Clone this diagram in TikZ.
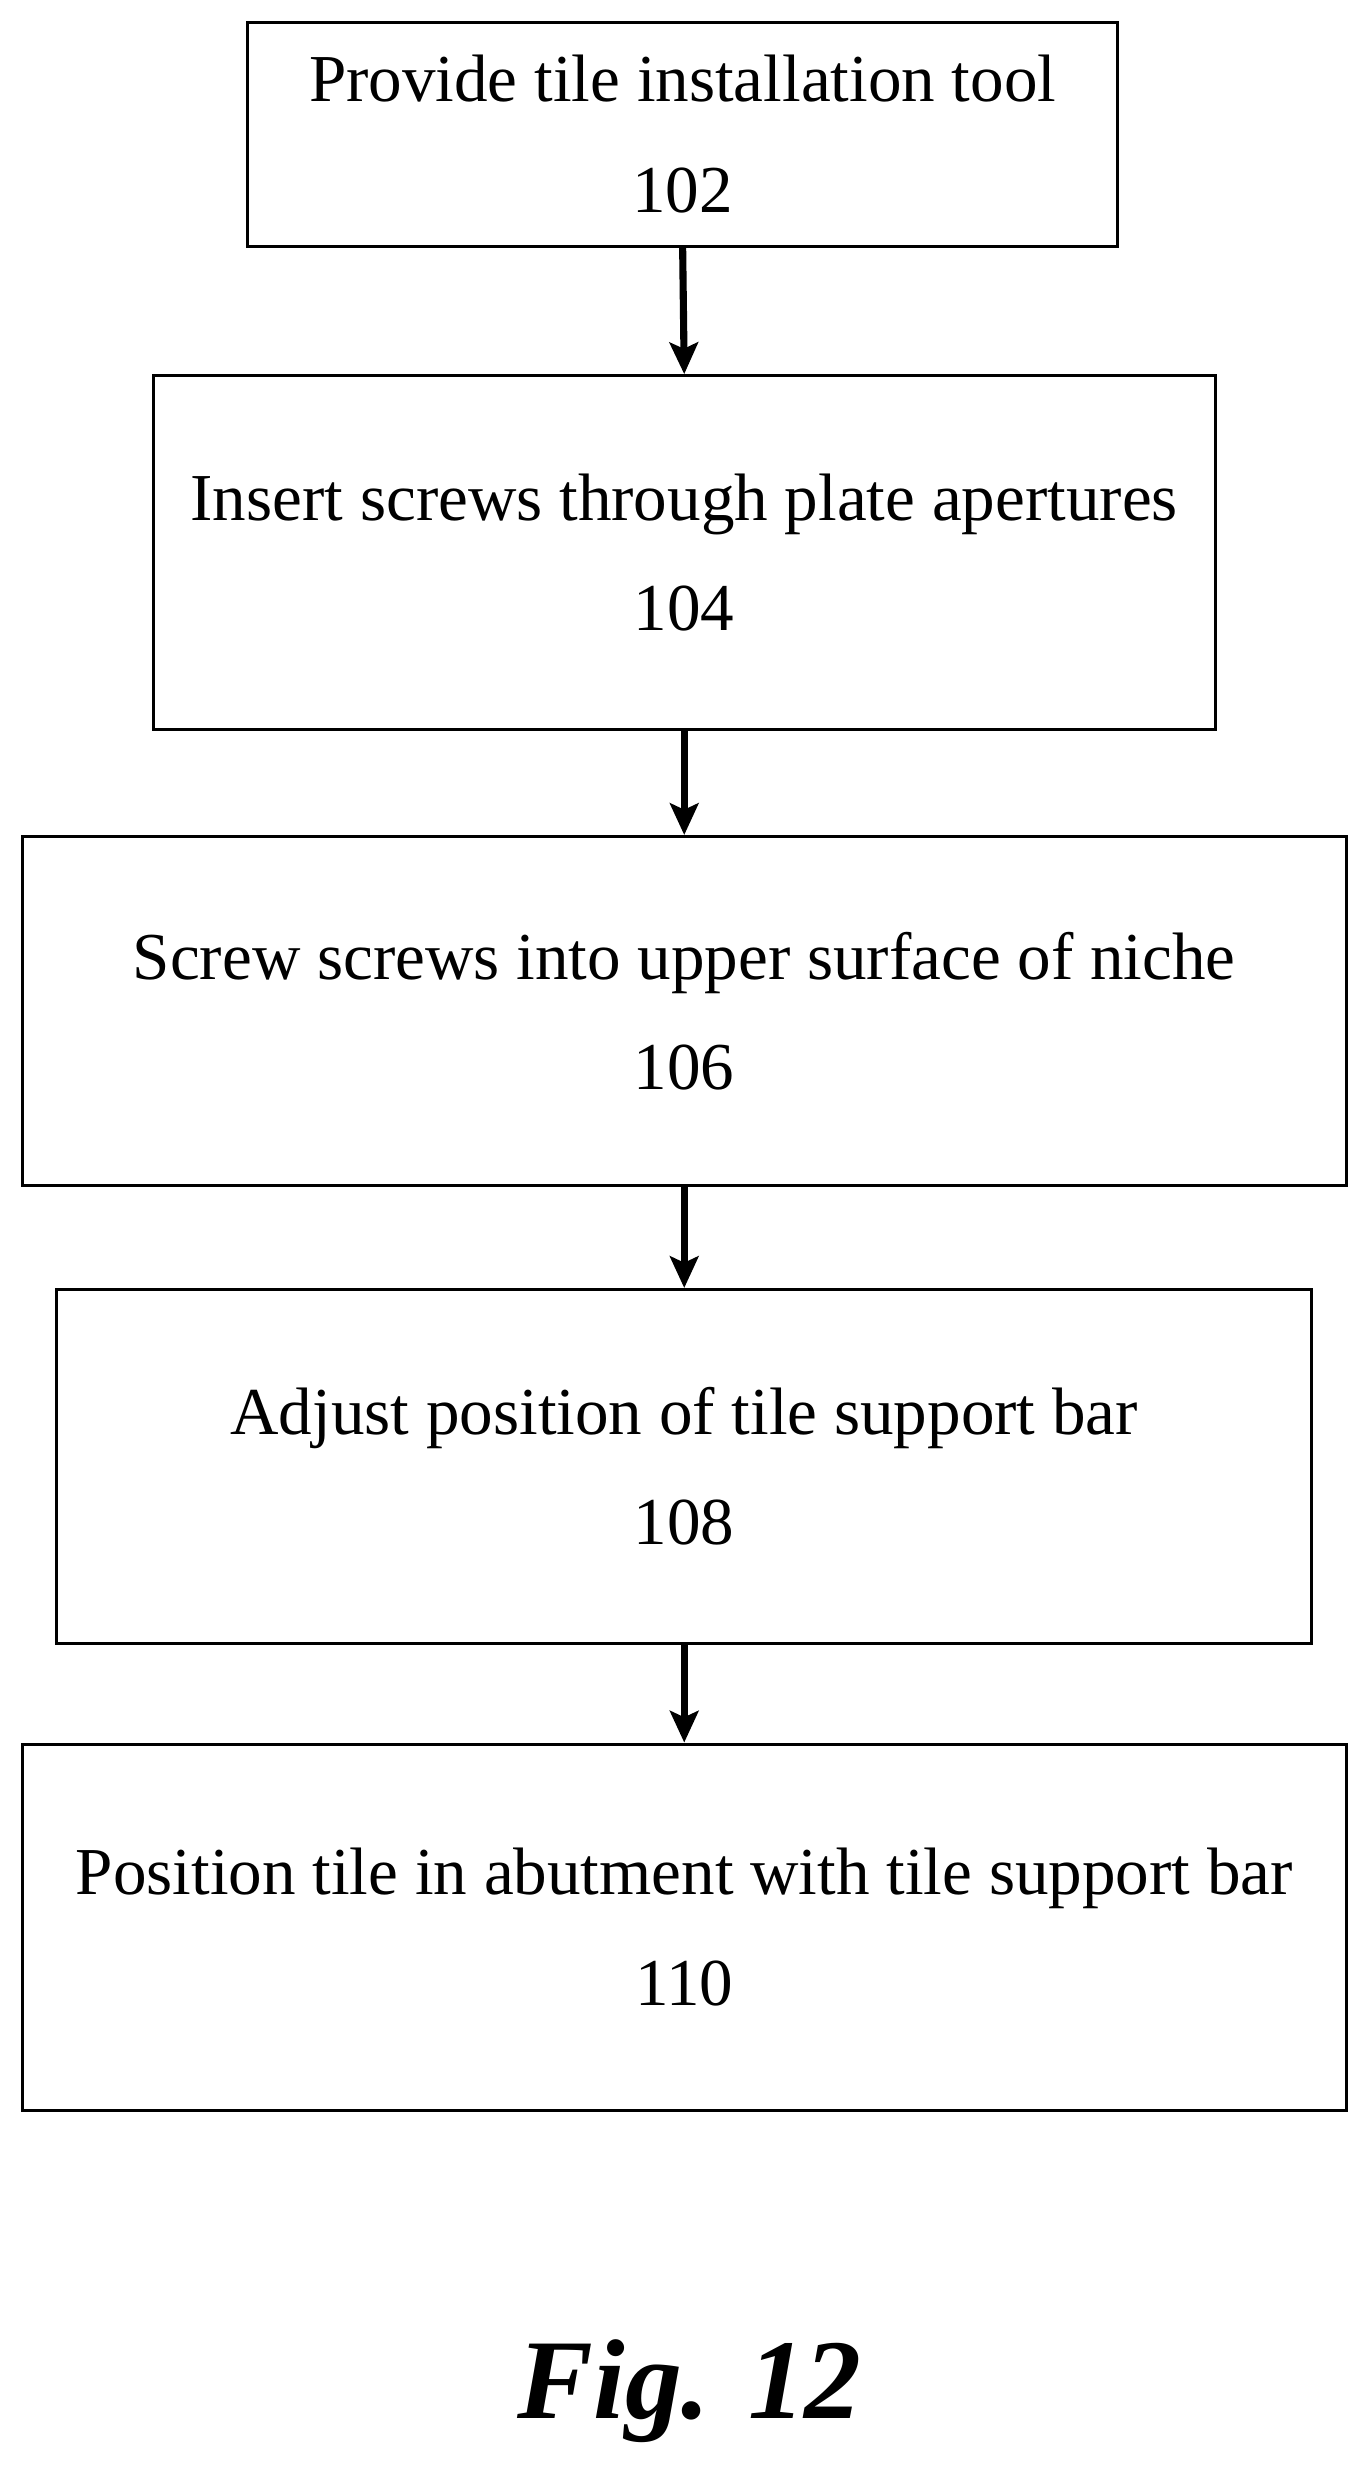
\documentclass[tikz,border=0pt]{standalone}
\usepackage{fontspec}
\setmainfont{Liberation Serif}
\usetikzlibrary{arrows.meta}
\begin{document}
\begin{tikzpicture}[x=1pt,y=-1pt,
  stepbox/.style={draw,line width=2pt,inner sep=0pt,align=center,
    font=\fontsize{42.5}{70}\selectfont},
  arr/.style={line width=4.5pt,-{Stealth[length=20pt,width=18pt,inset=4pt]}}]
\useasboundingbox (0,0) rectangle (864,1563);
\node[stepbox,minimum width=551pt,minimum height=142pt] (b1) at (432.5,85) {Provide tile installation tool\\102};
\node[stepbox,minimum width=673pt,minimum height=224pt] (b2) at (433.5,350) {Insert screws through plate apertures\\104};
\node[stepbox,minimum width=839pt,minimum height=221pt] (b3) at (433.5,640.5) {Screw screws into upper surface of niche\\106};
\node[stepbox,minimum width=795pt,minimum height=224pt] (b4) at (433.5,929) {Adjust position of tile support bar\\108};
\node[stepbox,minimum width=839pt,minimum height=232pt] (b5) at (433.5,1221) {Position tile in abutment with tile support bar\\110};
\draw[arr] (b1.south) -- (b2.north);
\draw[arr] (b2.south) -- (b3.north);
\draw[arr] (b3.south) -- (b4.north);
\draw[arr] (b4.south) -- (b5.north);
\node[font=\fontsize{72}{80}\selectfont\bfseries\itshape] (fig) at (437,1515) {Fig. 12};
\end{tikzpicture}
\end{document}
